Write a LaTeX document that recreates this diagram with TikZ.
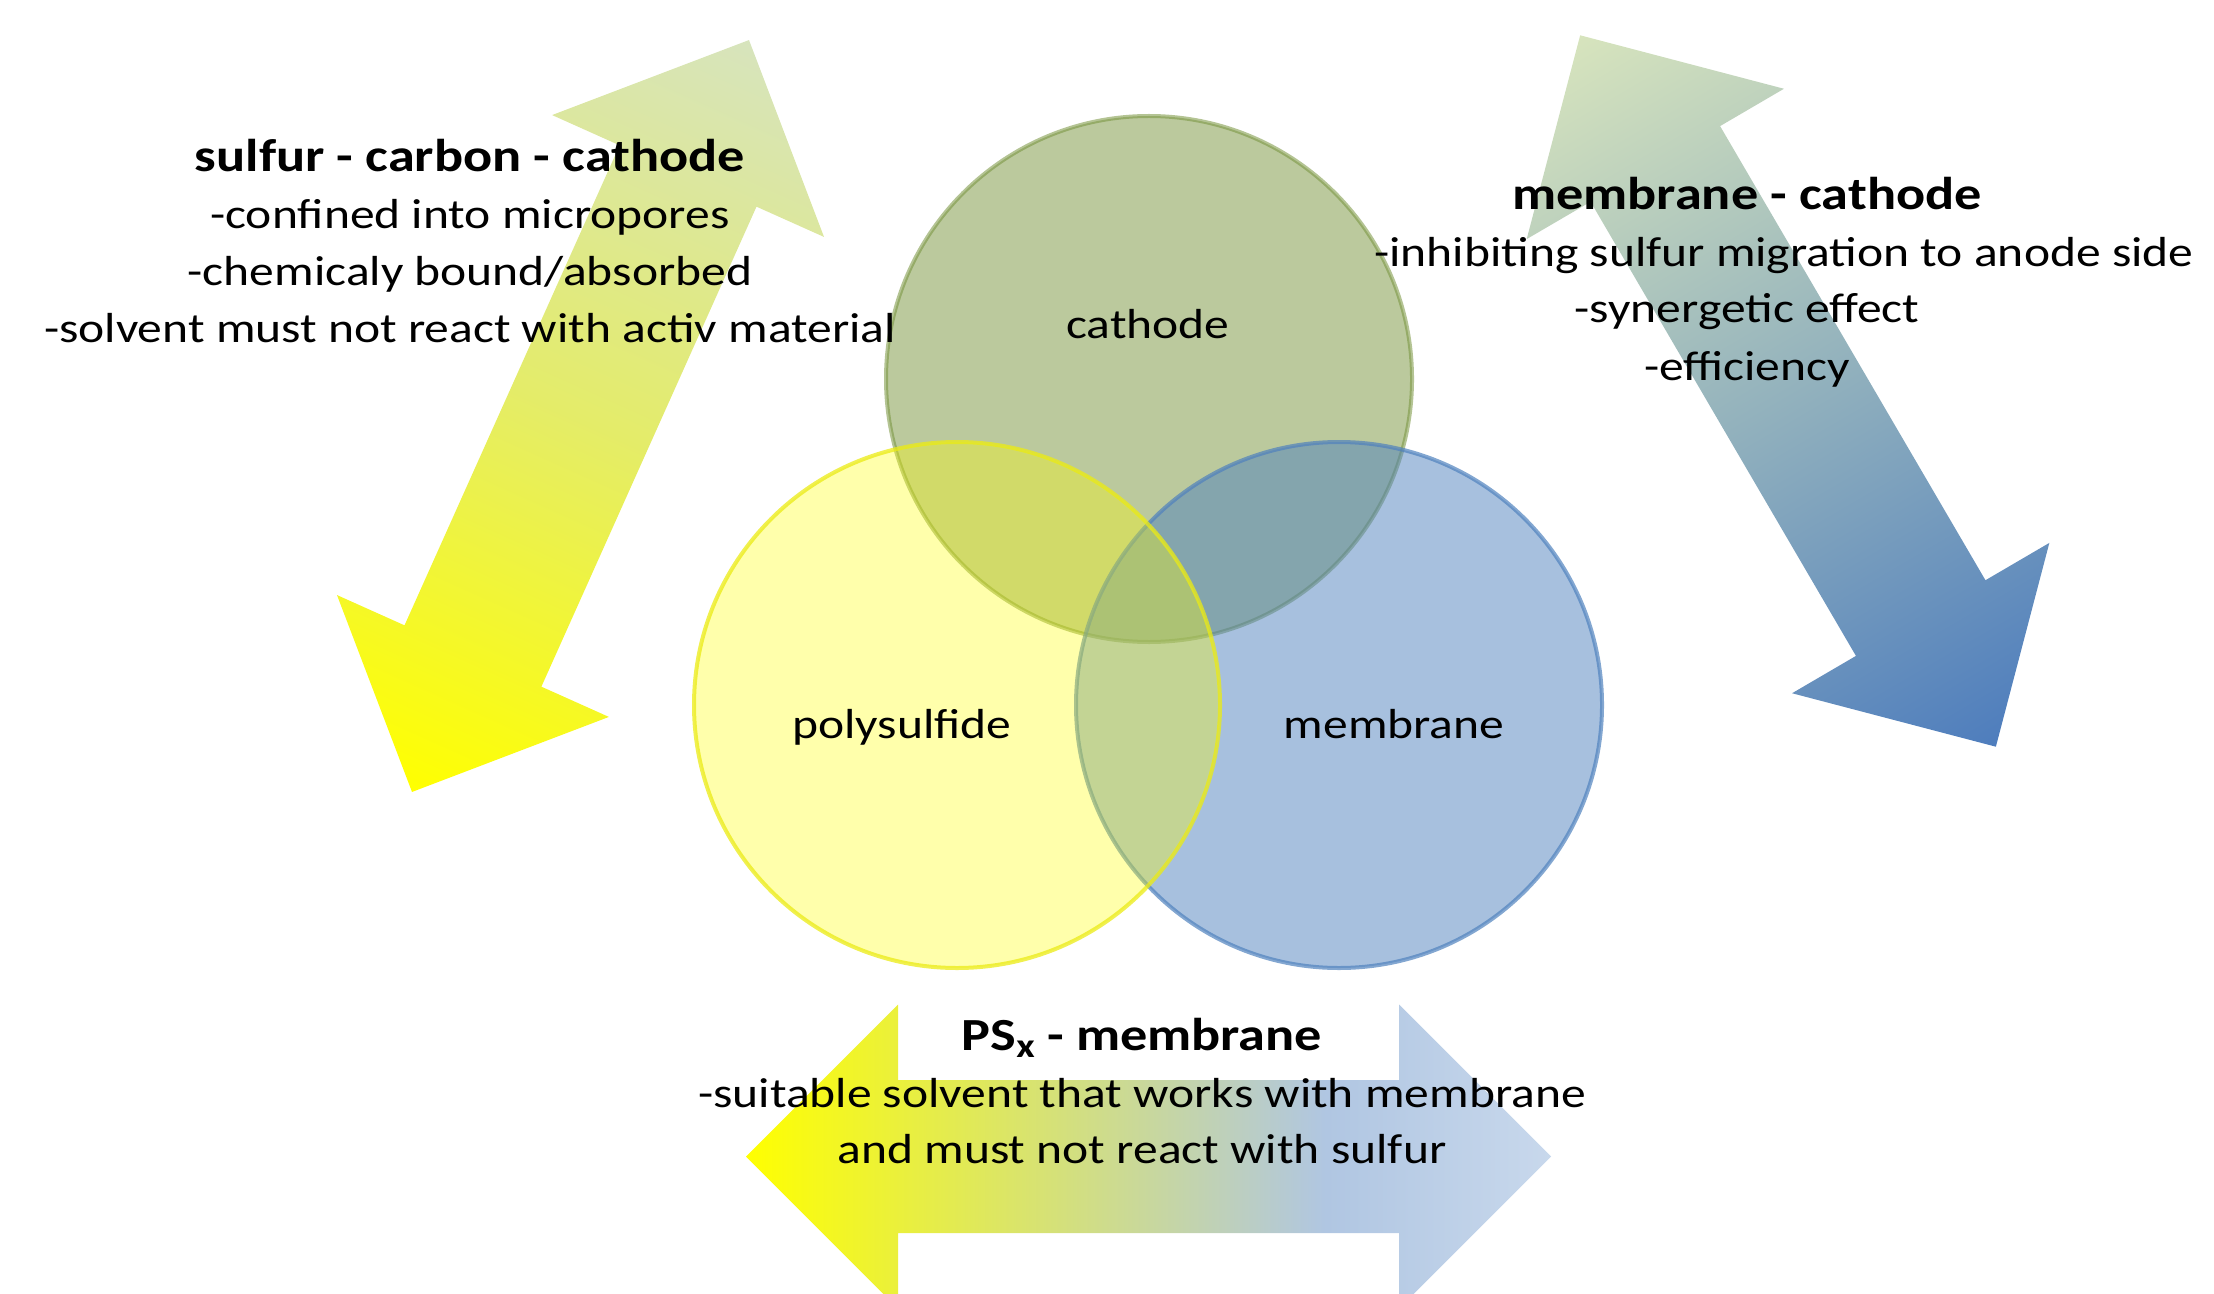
\documentclass[tikz,border=0pt]{standalone}
\usepackage{fontspec}
\setmainfont[FakeStretch=1.18]{Carlito}
\definecolor{olv}{RGB}{119,147,60}
\definecolor{blu}{RGB}{79,129,189}
\definecolor{ylw}{RGB}{255,255,0}
\definecolor{ylwrim}{RGB}{235,235,20}
\definecolor{lgreen}{RGB}{215,228,189}
\definecolor{midgy}{RGB}{228,236,105}
\definecolor{midgb}{RGB}{147,178,189}
\definecolor{bblue}{RGB}{78,125,189}
\definecolor{lbA}{RGB}{176,198,226}
\definecolor{lbB}{RGB}{200,216,236}
\pgfdeclarehorizontalshading{psxshade}{100bp}{color(0bp)=(ylw); color(25bp)=(ylw); color(61bp)=(lbA); color(75bp)=(lbB); color(100bp)=(lbB)}
\begin{document}
\begin{tikzpicture}[x=0.5pt,y=-0.5pt,
  body/.style={font=\fontsize{21}{28}\selectfont, inner sep=0pt, anchor=base},
  ttl/.style={font=\fontsize{23}{28}\selectfont\bfseries, inner sep=0pt, anchor=base},
  lbl/.style={font=\fontsize{21}{28}\selectfont, inner sep=0pt, anchor=base},
  vennc/.style={circle, minimum size=263pt, inner sep=0pt, outer sep=0pt, line width=2pt}]
\useasboundingbox (0,0) rectangle (2214,1294);
\clip (0,0) rectangle (2214,1294);

% left double arrow
\shade[transform canvas={shift={(290.25pt,-208pt)},rotate=-24.14}, x=0.5pt, y=0.5pt,
  top color=lgreen, bottom color=ylw, middle color=midgy]
 (0,412) -- (149,263) -- (75,263) -- (75,-263) -- (149,-263) -- (0,-412)
 -- (-149,-263) -- (-75,-263) -- (-75,263) -- (-149,263) -- cycle;

% right double arrow
\shade[transform canvas={shift={(894pt,-195.5pt)},rotate=30.30}, x=0.5pt, y=0.5pt,
  top color=lgreen, bottom color=bblue, middle color=midgb]
 (0,412) -- (149,263) -- (75,263) -- (75,-263) -- (149,-263) -- (0,-412)
 -- (-149,-263) -- (-75,-263) -- (-75,263) -- (-149,263) -- cycle;

% bottom double arrow
\shade[shading=psxshade]
 (746,1156.5) -- (898,1004.5) -- (898,1080) -- (1399,1080) -- (1399,1004.5)
 -- (1551,1156.5) -- (1399,1308.5) -- (1399,1233) -- (898,1233) -- (898,1308.5) -- cycle;

% Venn circles
\node[vennc, fill=olv, fill opacity=0.5, draw=olv, draw opacity=0.55] (cath) at (1149,379) {};
\node[vennc, fill=blu, fill opacity=0.5, draw=blu, draw opacity=0.7] (memb) at (1339,705) {};
\node[vennc, fill=ylw, fill opacity=0.33, draw=ylwrim, draw opacity=0.75] (poly) at (957,705) {};

% circle labels
\node[lbl] (cathL) at (1148,338) {cathode};
\node[lbl] (polyL) at (902,738) {polysulfide};
\node[lbl] (membL) at (1394,738) {membrane};

% left text block
\node[ttl] (t1) at (470,172) {sulfur - carbon - cathode};
\node[body] (t1a) at (470,229) {-confined into micropores};
\node[body] (t1b) at (470,286) {-chemicaly bound/absorbed};
\node[body] (t1c) at (470,343) {-solvent must not react with activ material};

% right text block
\node[ttl] (t2) at (1747,210) {membrane - cathode};
\node[body] (t2a) at (1784,267) {-inhibiting sulfur migration to anode side};
\node[body] (t2b) at (1747,323) {-synergetic effect};
\node[body] (t2c) at (1747,380) {-efficiency};

% bottom text block
\node[ttl] (t3) at (1142,1050) {PS\raisebox{-0.35ex}{\fontsize{17}{17}\selectfont x} - membrane};
\node[body] (t3a) at (1142,1107) {-suitable solvent that works with membrane};
\node[body] (t3b) at (1142,1163) {and must not react with sulfur};
\end{tikzpicture}
\end{document}
